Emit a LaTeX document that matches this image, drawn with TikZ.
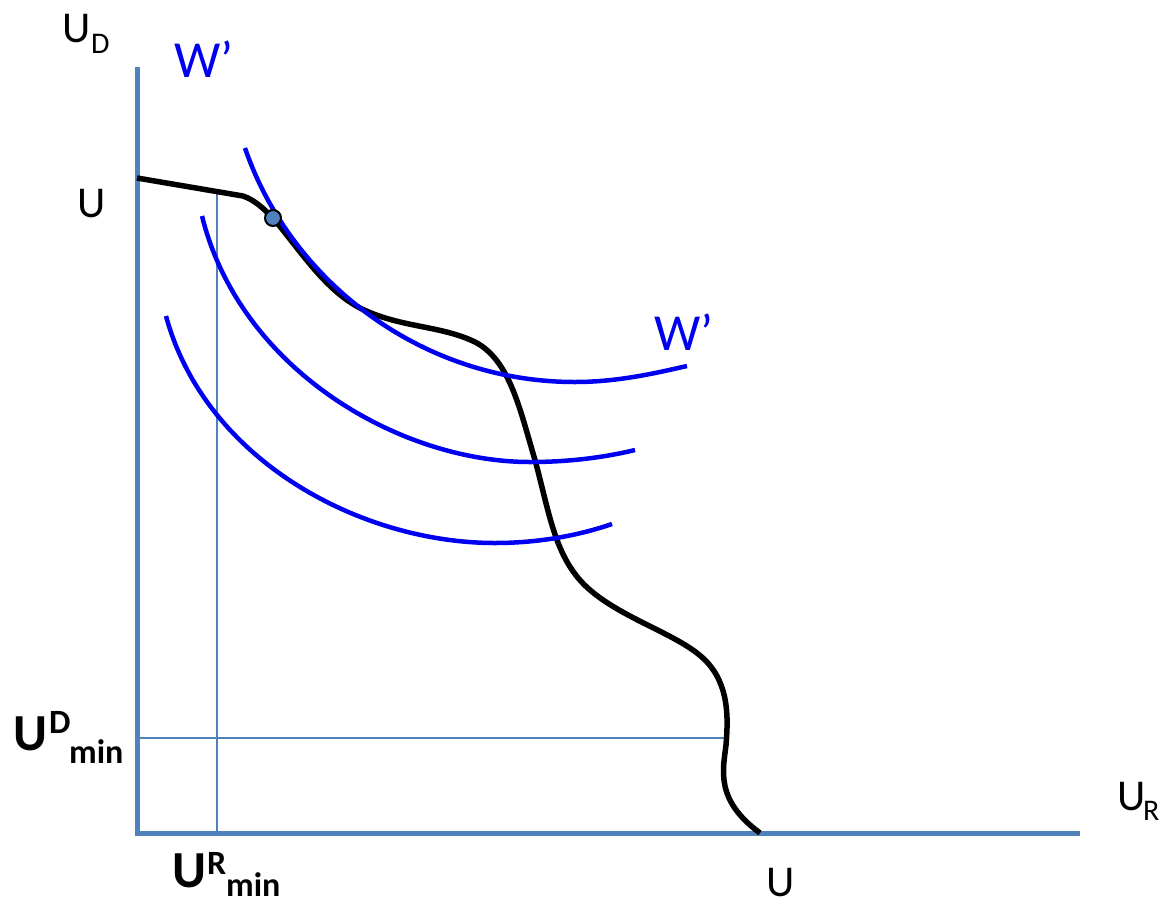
\documentclass[tikz,border=0pt]{standalone}
\usepackage{fontspec}
\setmainfont{Carlito}
\definecolor{axisblue}{HTML}{4F81BD}
\definecolor{curveblue}{HTML}{0000F0}
\begin{document}
\begin{tikzpicture}[x=1pt,y=-1pt,
  axis/.style={draw=axisblue,line width=5pt},
  guide/.style={draw=axisblue,line width=2.5pt},
  indiff/.style={draw=curveblue,line width=4.5pt},
  frontier/.style={draw=black,line width=5.5pt,line join=round},
  lbl/.style={inner sep=0pt,anchor=base west,font=\fontsize{44}{50}\selectfont},
  sub/.style={inner sep=0pt,anchor=base west,font=\fontsize{30}{34}\selectfont},
  wlbl/.style={inner sep=0pt,anchor=base west,text=curveblue,font=\fontsize{52}{58}\selectfont},
  blbl/.style={inner sep=0pt,anchor=base west,font=\fontsize{52}{58}\selectfont\bfseries},
  bsub/.style={inner sep=0pt,anchor=base west,font=\fontsize{34}{38}\selectfont\bfseries}]
\useasboundingbox (0,0) rectangle (1161,905);
% axes
\coordinate (top) at (137,67);
\coordinate (origin) at (137,833);
\coordinate (right) at (1080,833);
\draw[axis] (top) -- (origin) -- (right);
% guide lines
\coordinate (gvtop) at (217,190);
\coordinate (gvbot) at (217,833);
\coordinate (ghl) at (137,738);
\coordinate (ghr) at (727,738);
\draw[guide] (gvtop) -- (gvbot);
\draw[guide] (ghl) -- (ghr);
% frontier
\draw[frontier] (137,178) -- (243,196)
  .. controls (255,200) and (265,210) .. (273,218)
  .. controls (300,250) and (325,290) .. (360,308)
  .. controls (400,328) and (440,325) .. (475,342)
  .. controls (510,360) and (520,410) .. (535,460)
  .. controls (550,515) and (555,560) .. (590,590)
  .. controls (625,620) and (680,635) .. (705,660)
  .. controls (730,685) and (728,720) .. (726,745)
  .. controls (723,770) and (715,800) .. (760,833);
% indifference curves
\draw[indiff] (245,148) .. controls (290,280) and (420,382) .. (575,382)
  .. controls (620,382) and (660,372) .. (687,366);
\draw[indiff] (202,216) .. controls (240,370) and (400,462) .. (530,462)
  .. controls (575,462) and (610,456) .. (635,450);
\draw[indiff] (166,316) .. controls (205,460) and (360,543) .. (495,543)
  .. controls (540,543) and (580,535) .. (612,524);
% tangency point
\node[circle,fill=axisblue,draw=black,line width=2pt,minimum size=16pt,inner sep=0pt] (opt) at (273,218) {};
% labels
\node[lbl] (ud) at (62,42) {U};
\node[sub] (udsub) at (91,53) {D};
\node[wlbl] (w1) at (174,77) {W’};
\node[lbl] (uleft) at (77,217) {U};
\node[wlbl] (w2) at (654,350) {W’};
\node[lbl] (ur) at (1117,810) {U};
\node[sub] (ursub) at (1143,820) {R};
\node[lbl] (ubot) at (766,896) {U};
\node[blbl] (udm) at (13,750) {U};
\node[bsub] (udmsup) at (49,733) {D};
\node[bsub] (udmsub) at (69,763) {min};
\node[blbl] (urm) at (172,887) {U};
\node[bsub] (urmsup) at (207,874) {R};
\node[bsub] (urmsub) at (226,896) {min};
\end{tikzpicture}
\end{document}
